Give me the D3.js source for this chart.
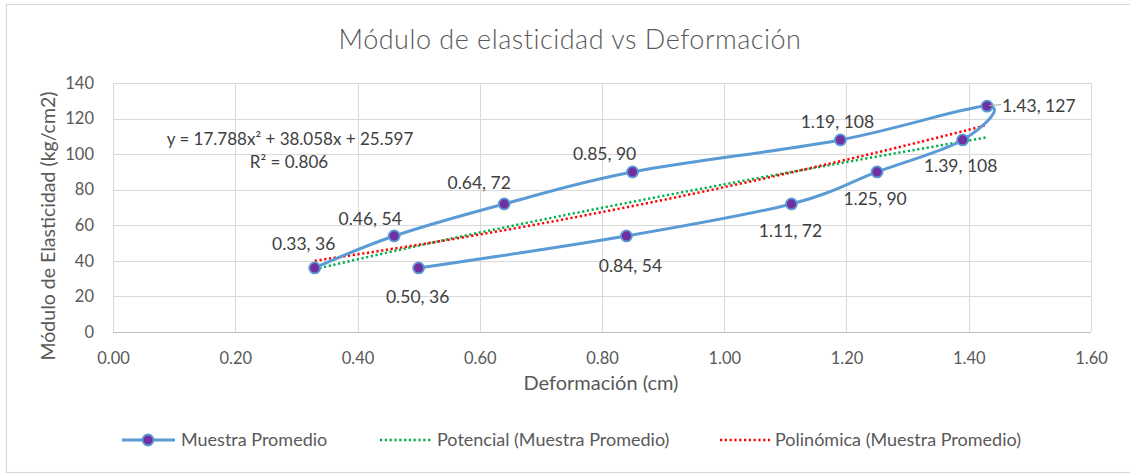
<!DOCTYPE html>
<html>
<head>
<meta charset="utf-8">
<script src="https://cdn.jsdelivr.net/npm/d3@7"></script>
<style>
  body { margin: 0; background: #fff; }
  text { font-family: Lato, "Open Sans", "Liberation Sans", sans-serif; }
</style>
</head>
<body>
<svg id="chart" width="1130" height="474"></svg>
<script>
// Muestra promedio: deformación (cm) y módulo de elasticidad (kg/cm2), in loading/unloading order
const deformacion = [0.33, 0.46, 0.64, 0.85, 1.19, 1.43, 1.39, 1.25, 1.11, 0.84, 0.50];
const modulo      = [36, 54, 72, 90, 108, 127, 108, 90, 72, 54, 36];

const xTicks = [0, 0.2, 0.4, 0.6, 0.8, 1.0, 1.2, 1.4, 1.6];
const yTicks = [0, 20, 40, 60, 80, 100, 120, 140];

// Polinómica: y = c0 + c1·x + c2·x²
const polinomicaCoef = [25.597, 38.058, 17.788];
// Potencial: y = a·x^b
const potencialCoef = [83.0, 0.7735];

// label nudges in px relative to each marker (dx, dy of baseline)
const labelNudge = [[-11, -18], [-24, -11], [-25, -15], [-28, -12], [-3, -12], [15, 6],
                    [-2, 32], [-2, 33], [-1, 33], [4, 36], [-1, 35]];

const svg = d3.select("#chart");
const W = 1130, H = 474;
const plot = { left: 113, right: 1091, top: 83, bottom: 332 };

const x = d3.scaleLinear().domain([0, 1.6]).range([plot.left, plot.right]);
const y = d3.scaleLinear().domain([0, 140]).range([plot.bottom, plot.top]);

// chart frame
svg.append("rect").attr("x", 6.5).attr("y", 4.5).attr("width", W + 10).attr("height", 468)
  .attr("fill", "#fff").attr("stroke", "#D9D9D9").attr("stroke-width", 1.2);

// title
svg.append("text").attr("x", 570).attr("y", 49).attr("text-anchor", "middle")
  .attr("font-size", 27).attr("font-weight", 300).attr("fill", "#595959")
  .attr("letter-spacing", 0.5)
  .text("Módulo de elasticidad vs Deformación");

// gridlines
const grid = svg.append("g");
grid.selectAll("line.h").data(yTicks).join("line")
  .attr("x1", plot.left).attr("x2", plot.right)
  .attr("y1", d => Math.round(y(d)) + 0.5).attr("y2", d => Math.round(y(d)) + 0.5)
  .attr("stroke", d => d === 0 ? "#BFBFBF" : "#D9D9D9").attr("stroke-width", 1);
grid.selectAll("line.v").data(xTicks).join("line")
  .attr("y1", plot.top).attr("y2", plot.bottom)
  .attr("x1", d => Math.round(x(d)) + 0.5).attr("x2", d => Math.round(x(d)) + 0.5)
  .attr("stroke", "#D9D9D9").attr("stroke-width", 1);

// axes (labels only, lines drawn by the grid)
const xAxis = d3.axisBottom(x).tickValues(xTicks).tickFormat(d3.format(".2f")).tickSize(0).tickPadding(20);
const yAxis = d3.axisLeft(y).tickValues(yTicks).tickSize(0).tickPadding(19);
const gx = svg.append("g").attr("transform", `translate(0,${plot.bottom})`).call(xAxis);
const gy = svg.append("g").attr("transform", `translate(${plot.left},0)`).call(yAxis);
[gx, gy].forEach(g => {
  g.select(".domain").remove();
  g.selectAll("text").attr("font-size", 16.5).attr("fill", "#595959")
    .attr("font-family", "Lato, 'Open Sans', sans-serif");
});

// axis titles
svg.append("text").attr("x", 601).attr("y", 390).attr("text-anchor", "middle")
  .attr("font-size", 20).attr("fill", "#595959").text("Deformación (cm)");
svg.append("text").attr("transform", "translate(55,226) rotate(-90)").attr("text-anchor", "middle")
  .attr("font-size", 19.5).attr("fill", "#595959").text("Módulo de Elasticidad (kg/cm2)");

// trendlines over the data range
const xMin = d3.min(deformacion), xMax = d3.max(deformacion);
const samples = d3.range(0, 101).map(i => xMin + (xMax - xMin) * i / 100);
const polinomica = v => polinomicaCoef[0] + polinomicaCoef[1] * v + polinomicaCoef[2] * v * v;
const potencial = v => potencialCoef[0] * Math.pow(v, potencialCoef[1]);
const trendLine = d3.line().x(d => x(d[0])).y(d => y(d[1]));

svg.append("path").datum(samples.map(v => [v, potencial(v)]))
  .attr("d", trendLine).attr("fill", "none").attr("stroke", "#00B050")
  .attr("stroke-width", 2.5).attr("stroke-dasharray", "2.2 2.6");
svg.append("path").datum(samples.map(v => [v, polinomica(v)]))
  .attr("d", trendLine).attr("fill", "none").attr("stroke", "#FF0000")
  .attr("stroke-width", 2.5).attr("stroke-dasharray", "2.2 2.6");

// smoothed series line
const pts = deformacion.map((d, i) => [d, modulo[i]]);
const smooth = d3.line().x(d => x(d[0])).y(d => y(d[1])).curve(d3.curveCatmullRom.alpha(0));
svg.append("path").datum(pts).attr("d", smooth).attr("fill", "none")
  .attr("stroke", "#5B9BD5").attr("stroke-width", 3).attr("stroke-linejoin", "round");

// markers
svg.append("g").selectAll("circle").data(pts).join("circle")
  .attr("cx", d => x(d[0])).attr("cy", d => y(d[1])).attr("r", 5.5)
  .attr("fill", "#7030A0").attr("stroke", "#5B9BD5").attr("stroke-width", 1.8);

// leader line for the peak label
const peak = d3.maxIndex(modulo);
svg.append("line")
  .attr("x1", x(deformacion[peak]) + 2).attr("y1", y(modulo[peak]) - 0.5)
  .attr("x2", x(deformacion[peak]) + labelNudge[peak][0] - 1).attr("y2", y(modulo[peak]) - 1.5)
  .attr("stroke", "#A6A6A6").attr("stroke-width", 1);

// data labels
svg.append("g").selectAll("text").data(pts).join("text")
  .attr("x", (d, i) => x(d[0]) + labelNudge[i][0])
  .attr("y", (d, i) => y(d[1]) + labelNudge[i][1])
  .attr("text-anchor", (d, i) => i === peak ? "start" : "middle")
  .attr("font-size", 17.5).attr("fill", "#404040")
  .text(d => `${d3.format(".2f")(d[0])}, ${d[1]}`);

// trendline equation
const eq = svg.append("text").attr("text-anchor", "middle").attr("font-size", 17).attr("fill", "#404040");
eq.append("tspan").attr("x", 290).attr("y", 145)
  .text(`y = ${polinomicaCoef[2]}x² + ${polinomicaCoef[1]}x + ${polinomicaCoef[0]}`);
eq.append("tspan").attr("x", 289).attr("y", 168).text("R² = 0.806");

// legend
const legend = svg.append("g").attr("font-size", 18).attr("fill", "#595959");
const ly = 440;
legend.append("line").attr("x1", 122).attr("x2", 175).attr("y1", ly).attr("y2", ly)
  .attr("stroke", "#5B9BD5").attr("stroke-width", 3);
legend.append("circle").attr("cx", 148).attr("cy", ly).attr("r", 5.5)
  .attr("fill", "#7030A0").attr("stroke", "#5B9BD5").attr("stroke-width", 1.8);
legend.append("text").attr("x", 181).attr("y", ly + 6).text("Muestra Promedio");
legend.append("line").attr("x1", 380).attr("x2", 432).attr("y1", ly).attr("y2", ly)
  .attr("stroke", "#00B050").attr("stroke-width", 2.5).attr("stroke-dasharray", "2.2 2.6");
legend.append("text").attr("x", 437).attr("y", ly + 6).text("Potencial (Muestra Promedio)");
legend.append("line").attr("x1", 720).attr("x2", 770).attr("y1", ly).attr("y2", ly)
  .attr("stroke", "#FF0000").attr("stroke-width", 2.5).attr("stroke-dasharray", "2.2 2.6");
legend.append("text").attr("x", 775).attr("y", ly + 6).text("Polinómica (Muestra Promedio)");
</script>
</body>
</html>
